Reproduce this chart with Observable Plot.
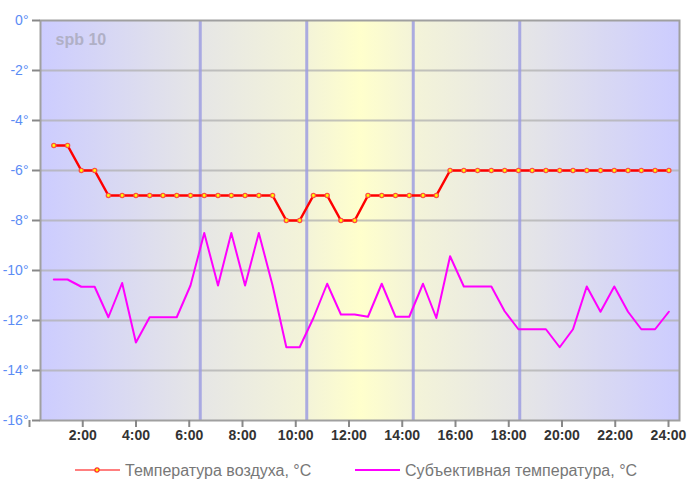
<!DOCTYPE html>
<html>
<head>
<meta charset="utf-8">
<script src="https://cdn.jsdelivr.net/npm/d3@7"></script>
<script src="https://cdn.jsdelivr.net/npm/@observablehq/plot@0.6"></script>
<style>
  body { margin: 0; background: #fff; font-family: "Liberation Sans", Arial, sans-serif; }
  #legend { position: relative; width: 687px; height: 37px; }
</style>
</head>
<body>
<div id="chart"></div>
<div id="legend"></div>
<script>
const stationLabel = "spb 10";
const times = ["0:30","1:01","1:32","2:02","2:33","3:04","3:35","4:06","4:36","5:07",
  "5:38","6:09","6:40","7:10","7:41","8:12","8:43","9:14","9:44","10:15",
  "10:46","11:17","11:48","12:18","12:49","13:20","13:51","14:22","14:52","15:23",
  "15:54","16:25","16:56","17:26","17:57","18:28","18:59","19:30","20:00","20:31",
  "21:02","21:33","22:04","22:34","23:05","23:36"];
const airTemp = [-5,-5,-6,-6,-7,-7,-7,-7,-7,-7,
  -7,-7,-7,-7,-7,-7,-7,-8,-8,-7,
  -7,-8,-8,-7,-7,-7,-7,-7,-7,-6,
  -6,-6,-6,-6,-6,-6,-6,-6,-6,-6,
  -6,-6,-6,-6,-6,-6];
const feelsTemp = [-10.36,-10.36,-10.65,-10.65,-11.87,-10.5,-12.88,-11.87,-11.87,-11.87,
  -10.6,-8.5,-10.6,-8.5,-10.6,-8.5,-10.6,-13.07,-13.07,-11.9,
  -10.53,-11.76,-11.76,-11.85,-10.53,-11.85,-11.85,-10.53,-11.9,-9.43,
  -10.64,-10.64,-10.64,-11.63,-12.35,-12.35,-12.35,-13.07,-12.35,-10.64,
  -11.65,-10.64,-11.65,-12.35,-12.35,-11.65];
const yTicks = [0,-2,-4,-6,-8,-10,-12,-14,-16];
const xTicks = [0,2,4,6,8,10,12,14,16,18,20,22,24];
const dayLines = [6,10,14,18];
const seriesNames = ["Температура воздуха, °C", "Субъективная температура, °C"];

const toHours = s => { const [h, m] = s.split(":").map(Number); return h + m / 60; };
const air = times.map((t, i) => ({x: toHours(t), y: airTemp[i]}));
const feels = times.map((t, i) => ({x: toHours(t), y: feelsTemp[i]}));

const font = "'Liberation Sans', Arial, sans-serif";

const chart = Plot.plot({
  width: 687,
  height: 450,
  marginTop: 20,
  marginBottom: 30,
  marginLeft: 40,
  marginRight: 8,
  style: {fontFamily: font, background: "#fff", overflow: "visible"},
  x: {domain: [0, 24]},
  y: {domain: [-16, 0]},
  marks: [
    Plot.frame({fill: "url(#bgGrad)"}),
    Plot.ruleY(yTicks.filter(d => d > -16 && d < 0), {stroke: "#b0b0b0", strokeWidth: 2, strokeOpacity: 0.75}),
    Plot.ruleX(dayLines, {stroke: "#9d9de0", strokeWidth: 3, strokeOpacity: 0.85}),
    Plot.frame({stroke: "#a0a0a0", strokeWidth: 2}),
    Plot.axisY(yTicks, {tickFormat: d => `${d}°`, tickSize: 8, tickPadding: 4, fontSize: 14,
      fill: "#5b8cf5", stroke: "#888", strokeWidth: 2, label: null}),
    Plot.axisX(xTicks, {tickFormat: h => h === 0 ? "" : `${h}:00`, tickSize: 7, tickPadding: 3,
      dx: -11, fontSize: 14, fontWeight: "bold", fill: "#333", stroke: "#888", strokeWidth: 2, label: null}),
    Plot.text([stationLabel], {frameAnchor: "top-left", text: d => d, dx: 15, dy: 19,
      lineAnchor: "middle", textAnchor: "start", fontSize: 16, fontWeight: "bold", fill: "#b0b0c6"}),
    Plot.line(feels, {x: "x", y: "y", stroke: "#ff00ff", strokeWidth: 2}),
    Plot.line(air, {x: "x", y: "y", stroke: "#ff0000", strokeWidth: 2.5}),
    Plot.dot(air, {x: "x", y: "y", r: 2.1, fill: "#ffff00", stroke: "#ff5040", strokeWidth: 1.3})
  ]
});

// background gradient (night blue -> noon yellow -> night blue)
const svg = d3.select(chart);
const defs = svg.insert("defs", ":first-child");
const grad = defs.append("linearGradient").attr("id", "bgGrad").attr("x1", 0).attr("x2", 1).attr("y1", 0).attr("y2", 0);
[[0, "#ccccff"], [0.25, "#e6e6e6"], [0.42, "#f4f4d8"], [0.5, "#ffffcc"], [0.58, "#f4f4d8"], [0.75, "#e6e6e6"], [1, "#ccccff"]]
  .forEach(([o, c]) => grad.append("stop").attr("offset", o).attr("stop-color", c));

document.getElementById("chart").appendChild(chart);

// legend
const leg = d3.select("#legend").append("svg").attr("width", 687).attr("height", 37)
  .style("font-family", font);
const items = [
  {name: seriesNames[0], color: "#ff7f7f", marker: true, x: 75},
  {name: seriesNames[1], color: "#ff00ff", marker: false, x: 355}
];
items.forEach(it => {
  const g = leg.append("g").attr("transform", `translate(${it.x},20)`);
  g.append("line").attr("x1", 0).attr("x2", 45).attr("stroke", it.color).attr("stroke-width", 2);
  if (it.marker) g.append("circle").attr("cx", 22).attr("r", 2.1).attr("fill", "#ffff00").attr("stroke", "#ff3030").attr("stroke-width", 1.3);
  g.append("text").attr("x", 50).attr("dy", "0.35em").attr("fill", "#777").attr("font-size", 16).text(it.name);
});
</script>
</body>
</html>
